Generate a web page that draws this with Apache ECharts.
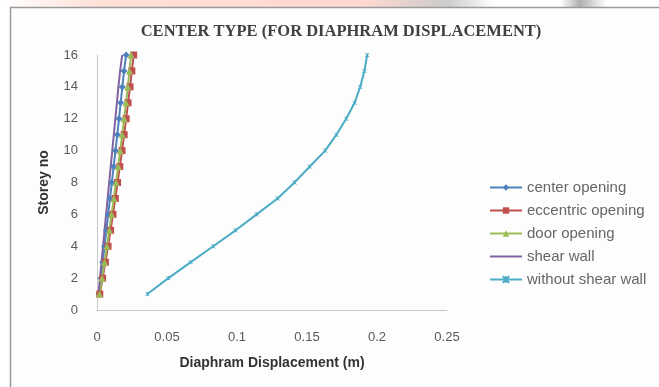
<!DOCTYPE html>
<html>
<head>
<meta charset="utf-8">
<script src="https://cdn.jsdelivr.net/npm/echarts@6/dist/echarts.min.js"></script>
<style>
html, body { margin: 0; padding: 0; background: #fff; }
#main { width: 659px; height: 387px; }
</style>
</head>
<body>
<div id="main"></div>
<script>
// storey numbers (y axis)
var storeys = [1, 2, 3, 4, 5, 6, 7, 8, 9, 10, 11, 12, 13, 14, 15, 16];

// diaphram displacement (m) per storey
var centerOpening = [0.0015, 0.0028, 0.0041, 0.0054, 0.0067, 0.0080, 0.0093, 0.0106, 0.0119, 0.0132, 0.0145, 0.0157, 0.0169, 0.0181, 0.0193, 0.0208];
var eccentricOpening = [0.0020, 0.0040, 0.0060, 0.0079, 0.0097, 0.0114, 0.0131, 0.0147, 0.0163, 0.0179, 0.0194, 0.0208, 0.0222, 0.0236, 0.0249, 0.0262];
var doorOpening = [0.0018, 0.0036, 0.0054, 0.0071, 0.0088, 0.0104, 0.0120, 0.0136, 0.0151, 0.0166, 0.0180, 0.0194, 0.0207, 0.0220, 0.0232, 0.0243];
var shearWall = [0.0010, 0.0021, 0.0032, 0.0043, 0.0054, 0.0065, 0.0076, 0.0087, 0.0098, 0.0109, 0.0120, 0.0131, 0.0142, 0.0153, 0.0165, 0.0180];
var withoutShearWall = [0.036, 0.051, 0.067, 0.083, 0.099, 0.114, 0.129, 0.141, 0.152, 0.163, 0.171, 0.178, 0.184, 0.188, 0.191, 0.193];

var xTicks = [0, 0.05, 0.1, 0.15, 0.2, 0.25];

function pairs(vals) {
  return vals.map(function (v, i) { return [v, storeys[i]]; });
}

var myChart = echarts.init(document.getElementById('main'));
var labelColor = '#595959';

myChart.setOption({
  animation: false,
  backgroundColor: '#ffffff',
  graphic: [{
    type: 'rect',
    shape: { x: 0, y: 0, width: 659, height: 7 },
    style: {
      fill: new echarts.graphic.LinearGradient(0, 0, 1, 0, [
        { offset: 0, color: '#ffffff' },
        { offset: 0.15, color: '#ffe0d8' },
        { offset: 0.55, color: '#ffd8d0' },
        { offset: 0.68, color: '#cccccc' },
        { offset: 0.75, color: '#ffffff' },
        { offset: 0.85, color: '#ffffff' },
        { offset: 0.88, color: '#b0b0b0' },
        { offset: 0.92, color: '#ffffff' }
      ])
    },
    z: -10
  }, {
    type: 'rect',
    shape: { x: 10.5, y: 7.5, width: 660, height: 390 },
    style: { fill: '#fdfdfd', stroke: '#9a9a9a', lineWidth: 1.5 },
    z: -10
  }],
  title: {
    text: 'CENTER TYPE (FOR DIAPHRAM DISPLACEMENT)',
    left: 336,
    textAlign: 'center',
    top: 18,
    textStyle: {
      fontFamily: 'Liberation Serif',
      fontWeight: 'bold',
      fontSize: 16.5,
      color: '#404040'
    }
  },
  color: ['#4F81BD', '#C0504D', '#9BBB59', '#8064A2', '#4BACC6'],
  legend: {
    orient: 'vertical',
    left: 484,
    top: 175,
    itemWidth: 32,
    itemHeight: 8,
    itemGap: 8,
    textStyle: { color: '#666666', fontSize: 15, fontFamily: 'Liberation Sans' },
    data: ['center opening', 'eccentric opening', 'door opening', 'shear wall', 'without shear wall']
  },
  grid: { left: 97, right: 212, top: 55, bottom: 77 },
  xAxis: {
    type: 'value',
    min: 0,
    max: 0.25,
    interval: 0.05,
    name: 'Diaphram Displacement (m)',
    nameLocation: 'middle',
    nameGap: 46,
    nameTextStyle: { fontWeight: 'bold', fontSize: 14, color: '#333', fontFamily: 'Liberation Sans' },
    axisLine: { show: true, lineStyle: { color: '#c8c8c8' } },
    axisTick: { show: false },
    splitLine: { show: false },
    axisLabel: {
      color: labelColor, fontSize: 13, margin: 21,
      formatter: function (v) {
        var t = xTicks.filter(function (x) { return Math.abs(x - v) < 1e-9; })[0];
        return t === undefined ? '' : String(t);
      }
    }
  },
  yAxis: {
    type: 'value',
    min: 0,
    max: 16,
    interval: 2,
    name: 'Storey no',
    nameLocation: 'middle',
    nameGap: 46,
    nameTextStyle: { fontWeight: 'bold', fontSize: 14, color: '#333', fontFamily: 'Liberation Sans' },
    axisLine: { show: true, lineStyle: { color: '#c8c8c8' } },
    axisTick: { show: false },
    splitLine: { show: false },
    axisLabel: { color: labelColor, fontSize: 13, margin: 19 }
  },
  series: [{
    name: 'center opening',
    type: 'line',
    data: pairs(centerOpening),
    symbol: 'diamond',
    symbolSize: 7,
    lineStyle: { width: 2 }
  }, {
    name: 'eccentric opening',
    type: 'line',
    data: pairs(eccentricOpening),
    symbol: 'rect',
    symbolSize: 7,
    lineStyle: { width: 2 }
  }, {
    name: 'door opening',
    type: 'line',
    data: pairs(doorOpening),
    symbol: 'triangle',
    symbolSize: 7,
    lineStyle: { width: 2 }
  }, {
    name: 'shear wall',
    type: 'line',
    data: pairs(shearWall),
    symbol: 'path://M0,0 L10,10 M10,0 L0,10',
    symbolSize: 5,
    lineStyle: { width: 2 }
  }, {
    name: 'without shear wall',
    type: 'line',
    data: pairs(withoutShearWall),
    symbol: 'path://M0,0 L10,10 M10,0 L0,10 M5,0 L5,10',
    symbolSize: 4,
    itemStyle: { borderColor: '#4BACC6', borderWidth: 1 },
    lineStyle: { width: 2 }
  }]
});
</script>
</body>
</html>
